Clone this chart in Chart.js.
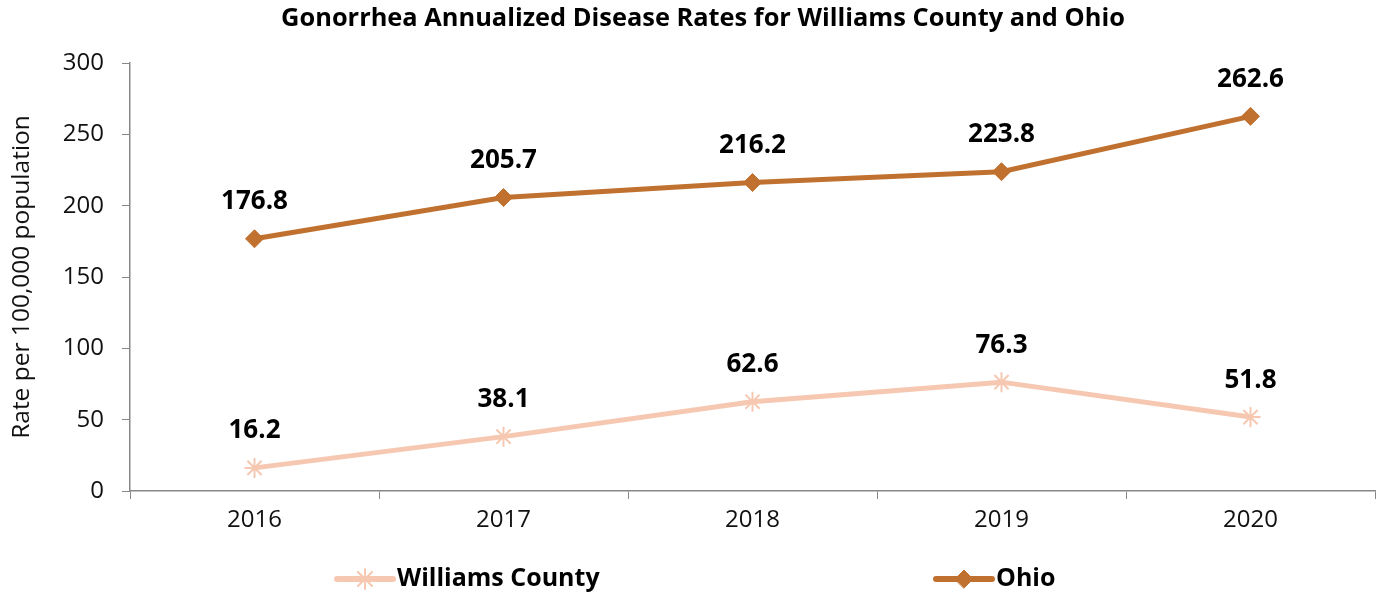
<!DOCTYPE html>
<html>
<head>
<meta charset="utf-8">
<script src="https://cdn.jsdelivr.net/npm/chart.js@4"></script>
<style>
  html,body{margin:0;padding:0;background:#fff;}
  #wrap{position:relative;width:1387px;height:596px;}
</style>
</head>
<body>
<div id="wrap"><canvas id="c" width="1387" height="596"></canvas></div>
<script>
const categories = ['2016', '2017', '2018', '2019', '2020'];
const williamsCounty = [16.2, 38.1, 62.6, 76.3, 51.8];
const ohio = [176.8, 205.7, 216.2, 223.8, 262.6];
const yTicks = [0, 50, 100, 150, 200, 250, 300];
const seriesNames = ['Williams County', 'Ohio'];
const titleText = 'Gonorrhea Annualized Disease Rates for Williams County and Ohio';
const yAxisTitle = 'Rate per 100,000 population';

const FONT = "'Open Sans', 'Noto Sans', sans-serif";
const cWill = '#F6C8B1';
const cOhio = '#C0712F';

const overlay = {
  id: 'overlay',
  afterDatasetsDraw(chart) {
    const ctx = chart.ctx;
    ctx.save();
    // data labels
    ctx.font = 'bold 26px ' + FONT;
    ctx.fillStyle = '#000';
    ctx.textAlign = 'center';
    ctx.textBaseline = 'middle';
    chart.data.datasets.forEach((ds, i) => {
      const meta = chart.getDatasetMeta(i);
      meta.data.forEach((pt, j) => {
        ctx.fillText(ds.data[j].toFixed(1), pt.x, pt.y - 37);
      });
    });
    // title
    ctx.font = 'bold 25.4px ' + FONT;
    ctx.fillText(titleText, 703, 19);
    // legend
    const items = [
      {x: 337, ds: chart.data.datasets[0]},
      {x: 936, ds: chart.data.datasets[1]}
    ];
    const ly = 579;
    items.forEach(it => {
      const ds = it.ds;
      ctx.strokeStyle = ds.borderColor;
      ctx.lineWidth = 6;
      ctx.lineCap = 'round';
      ctx.beginPath();
      ctx.moveTo(it.x, ly);
      ctx.lineTo(it.x + 56, ly);
      ctx.stroke();
      ctx.fillStyle = ds.pointBackgroundColor;
      ctx.strokeStyle = ds.pointBorderColor;
      ctx.lineWidth = ds.pointBorderWidth;
      Chart.helpers.drawPoint(ctx, {
        pointStyle: ds.pointStyle, radius: ds.pointRadius, borderWidth: ds.pointBorderWidth, rotation: 0
      }, it.x + 28, ly);
      ctx.fillStyle = '#000';
      ctx.font = 'bold 25px ' + FONT;
      ctx.textAlign = 'left';
      ctx.textBaseline = 'middle';
      ctx.fillText(ds.label, it.x + 60, ly);
    });
    ctx.restore();
  }
};

new Chart(document.getElementById('c'), {
  type: 'line',
  data: {
    labels: categories,
    datasets: [
      {
        label: seriesNames[0],
        data: williamsCounty,
        borderColor: cWill,
        backgroundColor: cWill,
        borderWidth: 5,
        pointStyle: 'star',
        pointRadius: 10,
        pointBorderWidth: 2,
        pointBorderColor: cWill,
        pointBackgroundColor: cWill,
        tension: 0
      },
      {
        label: seriesNames[1],
        data: ohio,
        borderColor: cOhio,
        backgroundColor: cOhio,
        borderWidth: 5,
        pointStyle: 'rectRot',
        pointRadius: 9,
        pointBorderWidth: 1,
        pointBorderColor: cOhio,
        pointBackgroundColor: cOhio,
        tension: 0
      }
    ]
  },
  options: {
    responsive: false,
    animation: false,
    devicePixelRatio: 1,
    layout: {padding: {top: 63, right: 8, left: 0, bottom: 0}},
    plugins: {
      legend: {display: false},
      title: {display: false},
      tooltip: {enabled: false}
    },
    scales: {
      x: {
        offset: true,
        grid: {
          display: true,
          drawOnChartArea: false,
          drawTicks: true,
          tickLength: 8,
          color: '#888',
          offset: true
        },
        border: {display: true, color: '#888', width: 1.5},
        ticks: {
          color: '#111',
          font: {family: FONT, size: 24},
          padding: 7
        },
        afterFit(s) { s.height = 596 - 491; }
      },
      y: {
        min: 0,
        max: 300,
        afterBuildTicks(s) { s.ticks = yTicks.map(v => ({value: v})); },
        grid: {
          display: true,
          drawOnChartArea: false,
          drawTicks: true,
          tickLength: 8,
          color: '#888'
        },
        border: {display: true, color: '#888', width: 1.5},
        ticks: {
          color: '#111',
          font: {family: FONT, size: 24},
          padding: 18
        },
        title: {
          display: true,
          text: yAxisTitle,
          color: '#111',
          font: {family: FONT, size: 24.5},
          padding: {top: 7, bottom: 0}
        },
        afterFit(s) { s.width = 130; }
      }
    }
  },
  plugins: [overlay]
});
</script>
</body>
</html>
